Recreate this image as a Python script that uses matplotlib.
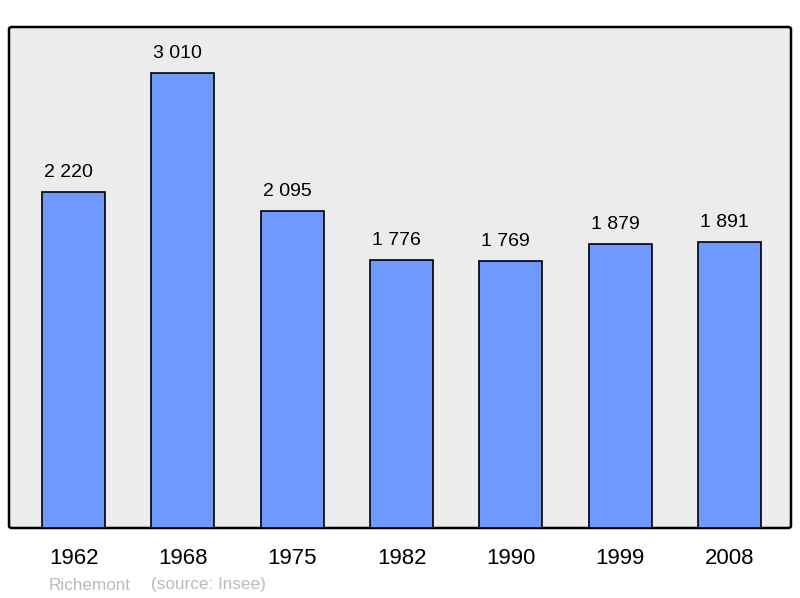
import matplotlib.pyplot as plt
from matplotlib.patches import FancyBboxPatch

years = ['1962', '1968', '1975', '1982', '1990', '1999', '2008']
population = [2220, 3010, 2095, 1776, 1769, 1879, 1891]
commune = 'Richemont'
source = '(source: Insee)'

plt.rcParams['font.family'] = ['Liberation Sans', 'DejaVu Sans']

fig = plt.figure(figsize=(8, 5.98), dpi=100)
# axes box in pixels: left 9, right 791, top 27, bottom 528
W, H = 800, 598
ax = fig.add_axes([9 / W, (H - 528) / H, (791 - 9) / W, (528 - 27) / H])
ax.set_facecolor('none')
for s in ax.spines.values():
    s.set_visible(False)

frame = FancyBboxPatch((0, 0), 1, 1, boxstyle='round,pad=0,rounding_size=0.004',
                       transform=ax.transAxes, facecolor='#ececec',
                       edgecolor='black', linewidth=1.8, clip_on=False, zorder=0)
ax.add_patch(frame)

x = list(range(len(years)))
ax.bar(x, population, width=0.576, color='#7099ff', edgecolor='black',
       linewidth=1.2, zorder=2)

for xi, v in zip(x, population):
    label = f'{v:,}'.replace(',', ' ')
    # values sit slightly left of the bar centre in the original
    ax.annotate(label, (xi, v), xytext=(-3.6, 10.8), textcoords='offset points',
                ha='center', va='baseline', fontsize=14, color='black')

ax.set_xlim(-0.59, 6.5625)
ax.set_ylim(0, 3314)
ax.set_yticks([])
ax.set_xticks(x)
ax.set_xticklabels(years, fontsize=16)
ax.tick_params(axis='x', length=0, pad=14.5)

fig.text(49 / W, 1 - 585 / H, commune, fontsize=12.3, color='#bbbbbb',
         ha='left', va='center')
fig.text(151 / W, 1 - 585 / H, source, fontsize=12.3, color='#bbbbbb',
         ha='left', va='center')

fig.savefig('out.png', dpi=100)
